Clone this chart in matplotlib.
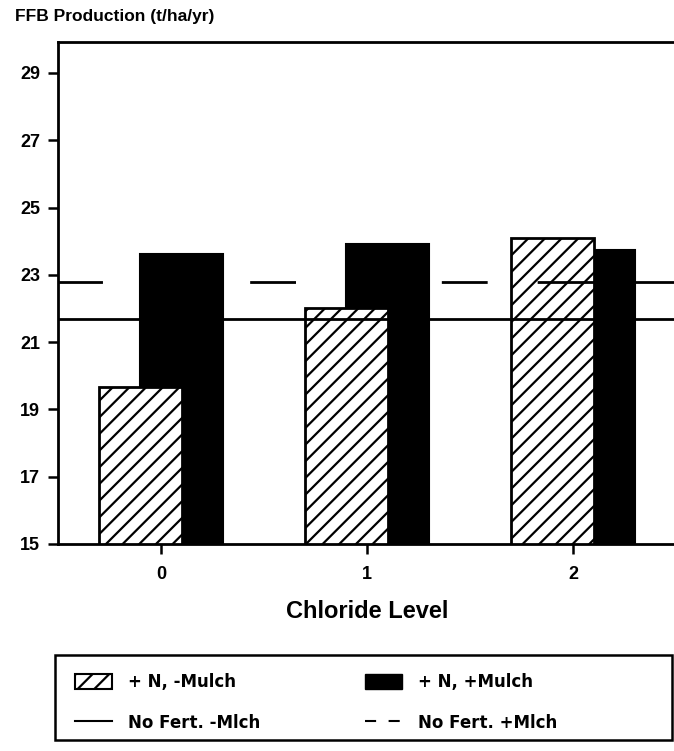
import matplotlib
matplotlib.use("Agg")
import matplotlib.pyplot as plt
from matplotlib.patches import Rectangle, Patch
from matplotlib.lines import Line2D

# ---- data ----
chloride_levels = [0, 1, 2]
n_no_mulch = [19.67, 22.02, 24.10]     # + N, -Mulch (hatched)
n_mulch = [23.62, 23.92, 23.74]        # + N, +Mulch (black)
nofert_no_mulch = 21.69                # No Fert. -Mulch (solid line)
nofert_mulch = 22.79                   # No Fert. +Mulch (dashed line)
y_ticks = [15, 17, 19, 21, 23, 25, 27, 29]
legend_labels = ["+ N, -Mulch", "+ N, +Mulch", "No Fert. -Mlch", "No Fert. +Mlch"]

plt.rcParams['font.family'] = ['Liberation Sans', 'DejaVu Sans']
plt.rcParams['font.weight'] = 'bold'
plt.rcParams['hatch.linewidth'] = 1.6
plt.rcParams['lines.scale_dashes'] = False

W, H = 674, 751
fig = plt.figure(figsize=(W / 100, H / 100), dpi=100)
ax = fig.add_axes([58 / W, 1 - 544 / H, 618 / W, (544 - 42) / H])

bw = 0.40
off = 0.10
ax.bar([c + off for c in chloride_levels], n_mulch, width=bw, bottom=0,
       color='black', edgecolor='black', linewidth=1.5, zorder=1)
ax.bar([c - off for c in chloride_levels], n_no_mulch, width=bw,
       facecolor='white', edgecolor='black', hatch='//', linewidth=2.0, zorder=2)

ax.axhline(nofert_no_mulch, color='black', linewidth=2.0, zorder=3)
ax.axhline(nofert_mulch, color='black', linewidth=2.0, zorder=3,
           dashes=(32, 106, 33, 105, 33, 36, 150, 10))

ax.set_xlim(-0.5, 2.5)
ax.set_ylim(15, 29.92)
ax.set_yticks(y_ticks)
ax.set_xticks(chloride_levels)
ax.set_xticklabels([str(c) for c in chloride_levels])
ax.tick_params(axis='both', direction='out', length=7, width=1.8,
               labelsize=13, pad=6)
ax.tick_params(axis='x', pad=9)
for lab in ax.get_yticklabels() + ax.get_xticklabels():
    lab.set_fontweight('bold')
for s in ['left', 'bottom', 'top']:
    ax.spines[s].set_linewidth(2.0)
ax.spines['right'].set_visible(False)

ax.set_xlabel("Chloride Level", fontsize=17, fontweight='bold', labelpad=12)
fig.text(15 / W, 1 - 17 / H, "FFB Production (t/ha/yr)", fontsize=12.5,
         fontweight='bold', ha='left', va='center')

# legend frame
fig.patches.append(Rectangle((55 / W, 1 - 740 / H), (672 - 55) / W, 85 / H,
                             transform=fig.transFigure, facecolor='none',
                             edgecolor='black', linewidth=1.8))
leg_font = {'family': 'DejaVu Sans', 'weight': 'bold', 'size': 12}
common = dict(loc='upper left', frameon=False, prop=leg_font, handlelength=2.2,
              handleheight=1.0, handletextpad=0.95, labelspacing=1.35,
              borderpad=0, borderaxespad=0)
h1 = [Patch(facecolor='white', edgecolor='black', hatch='//', linewidth=1.5),
      Line2D([], [], color='black', linewidth=1.5)]
h2 = [Patch(facecolor='black', edgecolor='black'),
      Line2D([], [], color='black', linewidth=1.5, dashes=(8, 9))]
leg1 = fig.legend(h1, [legend_labels[0], legend_labels[2]],
                  bbox_to_anchor=(75 / W, 1 - 673 / H), **common)
leg2 = fig.legend(h2, [legend_labels[1], legend_labels[3]],
                  bbox_to_anchor=(365 / W, 1 - 673 / H), **common)

fig.savefig("out.png", dpi=100)
